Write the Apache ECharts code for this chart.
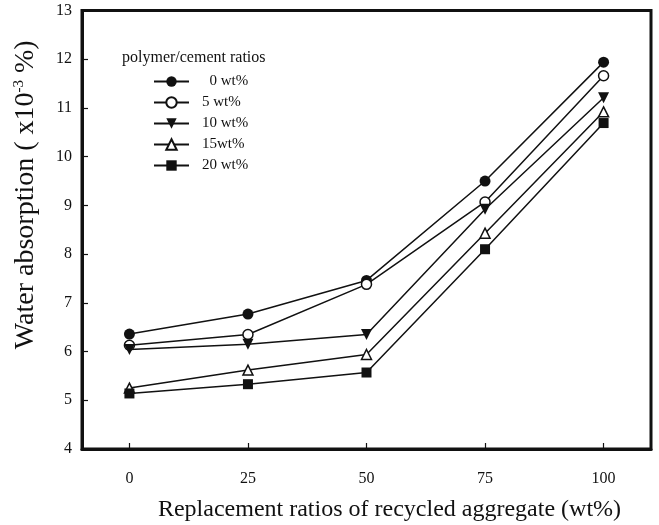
<!DOCTYPE html>
<html>
<head>
<meta charset="utf-8">
<script src="https://cdn.jsdelivr.net/npm/echarts@6/dist/echarts.min.js"></script>
<style>
  html, body { margin: 0; padding: 0; background: #fff; }
  #chart { width: 659px; height: 525px; }
</style>
</head>
<body>
<div id="chart"></div>
<script>
// Replacement ratio of recycled aggregate (wt%)
const replacementRatios = [0, 25, 50, 75, 100];
const xTickValues = [0, 25, 50, 75, 100];

// Water absorption (x10^-3 %) for each polymer/cement ratio
const pc0 = [6.36, 6.77, 7.46, 9.50, 11.94];
const pc5 = [6.13, 6.35, 7.38, 9.07, 11.66];
const pc10 = [6.04, 6.15, 6.35, 8.92, 11.21];
const pc15 = [5.25, 5.62, 5.94, 8.43, 10.92];
const pc20 = [5.14, 5.33, 5.57, 8.10, 10.69];

const seriesNames = ['0 wt%', '5 wt%', '10 wt%', '15wt%', '20 wt%'];

const FONT = '"Liberation Serif", "Times New Roman", serif';
const INK = '#111';

const chart = echarts.init(document.getElementById('chart'), null, { renderer: 'canvas' });

function pairs(ys) {
  return replacementRatios.map((x, i) => [x, ys[i]]);
}

function lineSeries(name, ys, symbol, filled, rotate, size) {
  return {
    name: name,
    type: 'line',
    data: pairs(ys),
    symbol: symbol,
    symbolSize: size,
    symbolRotate: rotate,
    showAllSymbol: true,
    lineStyle: { color: INK, width: 1.5 },
    itemStyle: {
      color: filled ? INK : '#fff',
      borderColor: INK,
      borderWidth: filled ? 0 : 1.5
    },
    emphasis: { disabled: true },
    animation: false,
    z: 3
  };
}

const option = {
  animation: false,
  backgroundColor: '#fff',
  grid: {
    left: 82, right: 8, top: 10.5, bottom: 76,
    outerBoundsMode: 'none',
    containLabel: false,
    show: true, borderColor: INK, borderWidth: 3, backgroundColor: 'transparent'
  },
  title: {
    text: 'polymer/cement ratios',
    left: 117, top: 45,
    textStyle: { fontFamily: FONT, fontSize: 16, fontWeight: 'normal', color: INK }
  },
  legend: {
    orient: 'vertical',
    left: 148, top: 69,
    itemWidth: 35, itemHeight: 13, itemGap: 6,
    data: seriesNames,
    selectedMode: false,
    formatter: function (name) {
      return name === '0 wt%' ? '\u2007' + name : name;
    },
    textStyle: { fontFamily: FONT, fontSize: 15, color: INK, padding: [0, 0, 0, 8] }
  },
  xAxis: {
    type: 'value',
    min: -10, max: 110,
    name: 'Replacement ratios of recycled aggregate (wt%)',
    nameLocation: 'middle',
    nameGap: 49,
    nameTextStyle: { fontFamily: FONT, fontSize: 24, color: INK, padding: [0, 0, 0, 46] },
    axisLine: { show: true, onZero: false, lineStyle: { color: INK, width: 3 } },
    axisTick: { show: true, inside: true, length: 6, customValues: xTickValues, lineStyle: { color: INK, width: 1.2 } },
    axisLabel: { customValues: xTickValues, fontFamily: FONT, fontSize: 16, color: INK, margin: 22 },
    splitLine: { show: false }
  },
  yAxis: {
    type: 'value',
    min: 4, max: 13, interval: 1,
    name: 'Water absorption ( x10{sup|-3} %)',
    nameLocation: 'middle',
    nameGap: 42,
    nameRotate: 90,
    nameTextStyle: {
      fontFamily: FONT, fontSize: 28, color: INK, padding: [0, 0, 0, 70],
      rich: { sup: { fontFamily: FONT, fontSize: 15, color: INK, verticalAlign: 'top', padding: [0, 0, 10, 0] } }
    },
    axisLine: { show: true, onZero: false, lineStyle: { color: INK, width: 3 } },
    axisTick: { show: true, inside: true, length: 6, lineStyle: { color: INK, width: 1.2 } },
    axisLabel: { fontFamily: FONT, fontSize: 16, color: INK, margin: 10 },
    splitLine: { show: false }
  },
  series: [
    lineSeries(seriesNames[0], pc0, 'circle', true, 0, 11),
    lineSeries(seriesNames[1], pc5, 'circle', false, 0, 10),
    lineSeries(seriesNames[2], pc10, 'triangle', true, 180, 11),
    lineSeries(seriesNames[3], pc15, 'triangle', false, 0, 10),
    lineSeries(seriesNames[4], pc20, 'rect', true, 0, 10)
  ]
};

chart.setOption(option);
</script>
</body>
</html>
